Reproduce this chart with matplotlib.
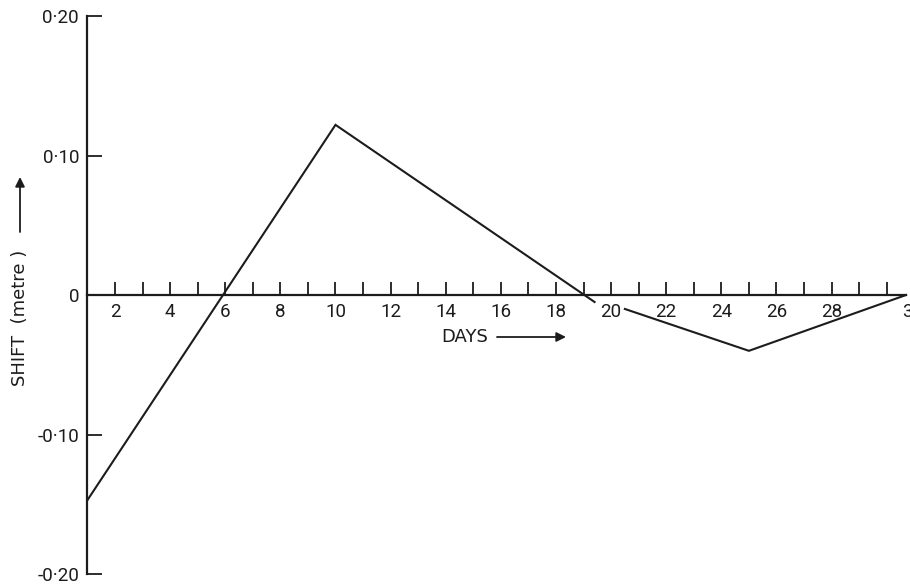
import matplotlib
matplotlib.use("Agg")
import matplotlib.pyplot as plt
from matplotlib.transforms import ScaledTranslation

plt.rcParams['font.family'] = ['Roboto', 'DejaVu Sans']

# Data
seg1_days = [1, 10, 19.4]
seg1_shift = [-0.147, 0.122, -0.005]
seg2_days = [20.5, 25, 30.7]
seg2_shift = [-0.010, -0.040, 0.0]

x_ticks = list(range(2, 31))
x_labels = [str(d) if d % 2 == 0 else "" for d in x_ticks]
y_ticks = [-0.20, -0.10, 0.0, 0.10, 0.20]
y_labels = ["-0·20", "-0·10", "0", "0·10", "0·20"]

ink = "#1c1c1c"

fig = plt.figure(figsize=(9.1, 5.86), dpi=100)
fig.patch.set_facecolor("white")
ax = fig.add_axes([0, 0, 1, 1])
ax.set_facecolor("none")

ax.plot(seg1_days, seg1_shift, color=ink, lw=1.5, solid_joinstyle='miter')
ax.plot(seg2_days, seg2_shift, color=ink, lw=1.5, solid_joinstyle='miter')

ax.set_xlim(-2.173, 30.845)
ax.set_ylim(-0.2086, 0.2115)

for s in ("top", "right"):
    ax.spines[s].set_visible(False)
ax.spines["left"].set_position(("data", 1))
ax.spines["left"].set_bounds(-0.20, 0.20)
ax.spines["bottom"].set_position(("data", 0))
ax.spines["bottom"].set_bounds(1, 30.7)
for s in ("left", "bottom"):
    ax.spines[s].set_linewidth(1.6)
    ax.spines[s].set_color(ink)

ax.set_xticks(x_ticks)
ax.set_xticklabels(x_labels)
ax.set_yticks(y_ticks)
ax.set_yticklabels(y_labels)
ax.tick_params(axis="x", direction="in", length=9.5, width=1.3, color=ink,
               pad=6, labelsize=13.5, labelcolor=ink)
ax.tick_params(axis="y", direction="in", length=11, width=1.3, color=ink,
               pad=6, labelsize=13.5, labelcolor=ink)

# last x label sits further right in the reference
lab30 = ax.get_xticklabels()[-1]
lab30.set_transform(lab30.get_transform() + ScaledTranslation(0.26, 0, fig.dpi_scale_trans))

title_font = dict(family=["DejaVu Sans"], fontsize=13, color=ink)

# axis titles with arrows
fig.text(465 / 910, 1 - 337 / 586, "DAYS", ha="center", va="center", **title_font)
ax.annotate("", xy=(566 / 910, 1 - 337 / 586), xytext=(497 / 910, 1 - 337 / 586),
            xycoords="figure fraction", textcoords="figure fraction",
            arrowprops=dict(arrowstyle="-|>", lw=1.3, color=ink, mutation_scale=14,
                            shrinkA=0, shrinkB=0))

fig.text(20 / 910, 1 - 318 / 586, "SHIFT  (metre )", ha="center", va="center",
         rotation=90, **title_font)
ax.annotate("", xy=(20 / 910, 1 - 177 / 586), xytext=(20 / 910, 1 - 232 / 586),
            xycoords="figure fraction", textcoords="figure fraction",
            arrowprops=dict(arrowstyle="-|>", lw=1.3, color=ink, mutation_scale=14,
                            shrinkA=0, shrinkB=0))

fig.savefig("out.png", dpi=100)
